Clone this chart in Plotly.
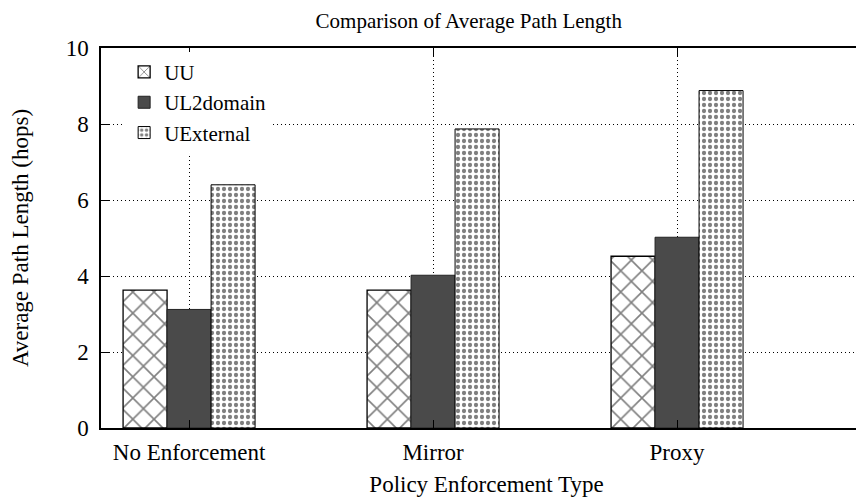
import plotly.graph_objects as go

categories = ["No Enforcement", "Mirror", "Proxy"]
uu = [3.63, 3.63, 4.52]
ul2domain = [3.12, 4.02, 5.02]
uexternal = [6.40, 7.87, 8.88]
y_ticks = [0, 2, 4, 6, 8, 10]

xpos = list(range(len(categories)))
FONT = "Liberation Serif, Times New Roman, serif"
FS = 23

fig = go.Figure()
fig.add_trace(go.Bar(
    x=xpos, y=uu, name="UU",
    marker=dict(color="white",
                pattern=dict(shape="x", fgcolor="black", bgcolor="white", size=15, solidity=0.2),
                line=dict(color="black", width=1.3)),
))
fig.add_trace(go.Bar(
    x=xpos, y=ul2domain, name="UL2domain",
    marker=dict(color="#4a4a4a", line=dict(color="#222222", width=1)),
))
fig.add_trace(go.Bar(
    x=xpos, y=uexternal, name="UExternal",
    marker=dict(color="white",
                pattern=dict(shape=".", fgcolor="black", bgcolor="white", size=6, solidity=0.4),
                line=dict(color="black", width=1)),
))

# page body has an 8px margin: compensate so the plot area lands at x 101..(edge), y 48..428
fig.update_layout(
    width=864, height=499,
    margin=dict(l=93, r=0, t=40, b=79),
    paper_bgcolor="white", plot_bgcolor="white",
    barmode="group", bargap=0.459, bargroupgap=0,
    font=dict(family=FONT, size=FS, color="black"),
    title=dict(text="Comparison of Average Path Length", x=0.477, xref="paper", xanchor="center",
               y=1 - 13 / 499, yref="container", yanchor="middle",
               font=dict(family=FONT, size=21, color="black")),
    legend=dict(x=0.03, y=0.99, xanchor="left", yanchor="top",
                bgcolor="white", borderwidth=0,
                font=dict(family=FONT, size=21, color="black"),
                tracegroupgap=0, itemwidth=30),
    showlegend=True,
)

fig.update_xaxes(
    range=[-0.361, 2.799],
    tickmode="array", tickvals=xpos, ticktext=categories,
    showline=True, linecolor="black", linewidth=1.5, mirror="ticks",
    ticks="inside", ticklen=8, tickcolor="black",
    showgrid=True, gridcolor="black", griddash="1px,3px", gridwidth=1,
    zeroline=False,
    title=dict(text="Policy Enforcement Type", standoff=12, font=dict(family=FONT, size=FS)),
    tickfont=dict(family=FONT, size=FS),
    ticklabelstandoff=3,
)
fig.update_yaxes(
    range=[0, 10], tickmode="array", tickvals=y_ticks,
    showline=True, linecolor="black", linewidth=1.5, mirror=False,
    ticks="inside", ticklen=8, tickcolor="black",
    showgrid=True, gridcolor="black", griddash="1px,3px", gridwidth=1,
    zeroline=False,
    title=dict(text="Average Path Length (hops)", standoff=40, font=dict(family=FONT, size=FS)),
    tickfont=dict(family=FONT, size=FS),
    ticklabelstandoff=6,
)

fig.write_html("out.html")
